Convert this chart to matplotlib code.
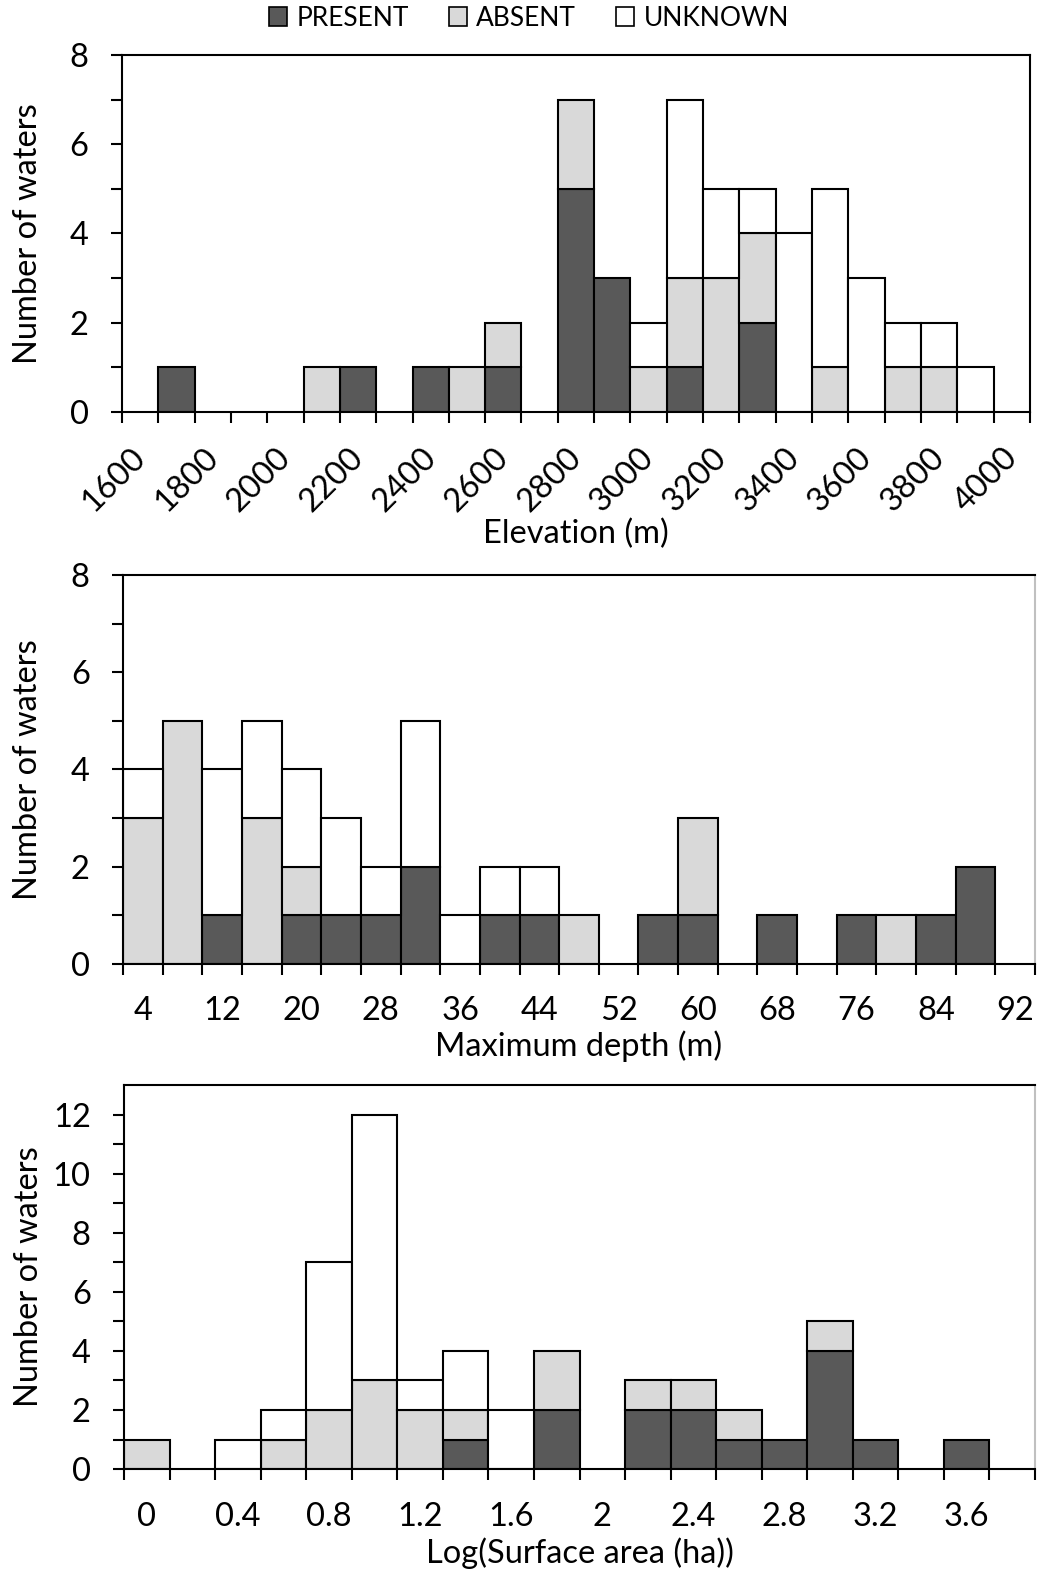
import numpy as np
import matplotlib.pyplot as plt
import matplotlib.transforms as mtransforms
from matplotlib.patches import Patch

plt.rcParams['font.family'] = ['Lato', 'DejaVu Sans']

# elevation bins (left edges, 100 m wide)
elev_edges = list(range(1600, 4000, 100))
elev_present = [0, 1, 0, 0, 0, 0, 1, 0, 1, 0, 1, 0, 5, 3, 0, 1, 0, 2, 0, 0, 0, 0, 0, 0]
elev_absent = [0, 0, 0, 0, 0, 1, 0, 0, 0, 1, 1, 0, 2, 0, 1, 2, 3, 2, 0, 1, 0, 1, 1, 0]
elev_unknown = [0, 0, 0, 0, 0, 0, 0, 0, 0, 0, 0, 0, 0, 0, 1, 4, 2, 1, 4, 4, 3, 1, 1, 1]

# maximum depth bins (centres, 4 m wide)
depth_bins = list(range(4, 96, 4))
depth_present = [0, 0, 1, 0, 1, 1, 1, 2, 0, 1, 1, 0, 0, 1, 1, 0, 1, 0, 1, 0, 1, 2, 0]
depth_absent = [3, 5, 0, 3, 1, 0, 0, 0, 0, 0, 0, 1, 0, 0, 2, 0, 0, 0, 0, 1, 0, 0, 0]
depth_unknown = [1, 0, 3, 2, 2, 2, 1, 3, 1, 1, 1, 0, 0, 0, 0, 0, 0, 0, 0, 0, 0, 0, 0]
depth_labels = [4, 12, 20, 28, 36, 44, 52, 60, 68, 76, 84, 92]

# log surface area bins (centres, 0.2 wide)
area_bins = [round(0.2 * i, 1) for i in range(20)]
area_present = [0, 0, 0, 0, 0, 0, 0, 1, 0, 2, 0, 2, 2, 1, 1, 4, 1, 0, 1, 0]
area_absent = [1, 0, 0, 1, 2, 3, 2, 1, 0, 2, 0, 1, 1, 1, 0, 1, 0, 0, 0, 0]
area_unknown = [0, 0, 1, 1, 5, 9, 1, 2, 2, 0, 0, 0, 0, 0, 0, 0, 0, 0, 0, 0]
area_labels = ['0', '0.4', '0.8', '1.2', '1.6', '2', '2.4', '2.8', '3.2', '3.6']

c_present = '#595959'
c_absent = '#d9d9d9'
c_unknown = '#ffffff'
fs = 23.5
lw = 1.5

fig = plt.figure(figsize=(10.37, 15.70), dpi=100)
ax1 = fig.add_axes([0.1176, 0.7376, 0.8756, 0.2274])
ax2 = fig.add_axes([0.1186, 0.3860, 0.8795, 0.2478])
ax3 = fig.add_axes([0.1196, 0.0643, 0.8785, 0.2446])


def stacked(ax, x, w, p, a, u, align):
    p = np.array(p)
    a = np.array(a)
    u = np.array(u)
    kw = dict(width=w, align=align, edgecolor='black', linewidth=lw)
    ax.bar(x, p, color=c_present, **kw)
    ax.bar(x, a, bottom=p, color=c_absent, **kw)
    ax.bar(x, u, bottom=p + a, color=c_unknown, **kw)
    for patch in ax.patches:
        if patch.get_height() == 0:
            patch.set_visible(False)


def style(ax, ymax, ystep, labx):
    ax.set_ylim(0, ymax)
    ax.set_yticks(np.arange(0, ymax, ystep) if ymax % ystep else np.arange(0, ymax + 0.1, ystep))
    ax.set_yticks(np.arange(1, ymax, ystep), minor=True)
    ax.tick_params(axis='y', which='both', direction='out', length=8, width=lw,
                   labelsize=fs, pad=16)
    for s in ax.spines.values():
        s.set_linewidth(lw)
    ax.set_ylabel('Number of waters', fontsize=fs)
    ax.yaxis.set_label_coords(labx, 0.5)


# panel 1 - elevation
stacked(ax1, elev_edges, 100, elev_present, elev_absent, elev_unknown, 'edge')
style(ax1, 8, 2, -0.087)
ax1.set_xlim(1600, 4100)
ax1.set_xticks(range(1600, 4001, 200))
ax1.set_xticks(range(1700, 4101, 200), minor=True)
ax1.tick_params(axis='x', which='both', direction='out', length=8, width=lw,
                labelsize=fs, pad=14)
shift = mtransforms.ScaledTranslation(-8 / 100, 0, fig.dpi_scale_trans)
for t in ax1.get_xticklabels():
    t.set_rotation(45)
    t.set_ha('center')
    t.set_va('top')
    t.set_transform(t.get_transform() + shift)
ax1.set_xlabel('Elevation (m)', fontsize=fs)
ax1.xaxis.set_label_coords(0.5, -0.3)

# panel 2 - maximum depth
stacked(ax2, depth_bins, 4, depth_present, depth_absent, depth_unknown, 'center')
style(ax2, 8, 2, -0.088)
ax2.set_xlim(2, 94)
ax2.set_xticks(depth_labels)
ax2.set_xticklabels([str(v) for v in depth_labels])
ax2.set_xticks(np.arange(2, 95, 4), minor=True)
ax2.tick_params(axis='x', which='major', length=0, labelsize=fs, pad=23)
ax2.tick_params(axis='x', which='minor', direction='out', length=8, width=lw)
ax2.spines['right'].set_color('#c0c0c0')
ax2.set_xlabel('Maximum depth (m)', fontsize=fs)
ax2.xaxis.set_label_coords(0.5, -0.17)

# panel 3 - log surface area
stacked(ax3, area_bins, 0.2, area_present, area_absent, area_unknown, 'center')
style(ax3, 13, 2, -0.088)
ax3.set_yticks(np.arange(0, 13, 2))
ax3.set_yticks(np.arange(1, 13, 2), minor=True)
ax3.set_xlim(-0.1, 3.9)
ax3.set_xticks(area_bins[::2])
ax3.set_xticklabels(area_labels)
ax3.set_xticks(np.arange(-0.1, 3.95, 0.2), minor=True)
ax3.tick_params(axis='x', which='major', length=0, labelsize=fs, pad=24)
ax3.tick_params(axis='x', which='minor', direction='out', length=8, width=lw)
ax3.spines['right'].set_color('#c0c0c0')
ax3.set_xlabel('Log(Surface area (ha))', fontsize=fs)
ax3.xaxis.set_label_coords(0.5, -0.178)

handles = [Patch(facecolor=c, edgecolor='black', linewidth=1.2)
           for c in (c_present, c_absent, c_unknown)]
fig.legend(handles, ['PRESENT', 'ABSENT', 'UNKNOWN'], loc='center',
           bbox_to_anchor=(0.51, 0.9885), ncol=3, frameon=False, fontsize=19,
           handlelength=0.7, handleheight=0.7, handletextpad=0.35, columnspacing=1.5)

fig.savefig('out.png', dpi=100)
